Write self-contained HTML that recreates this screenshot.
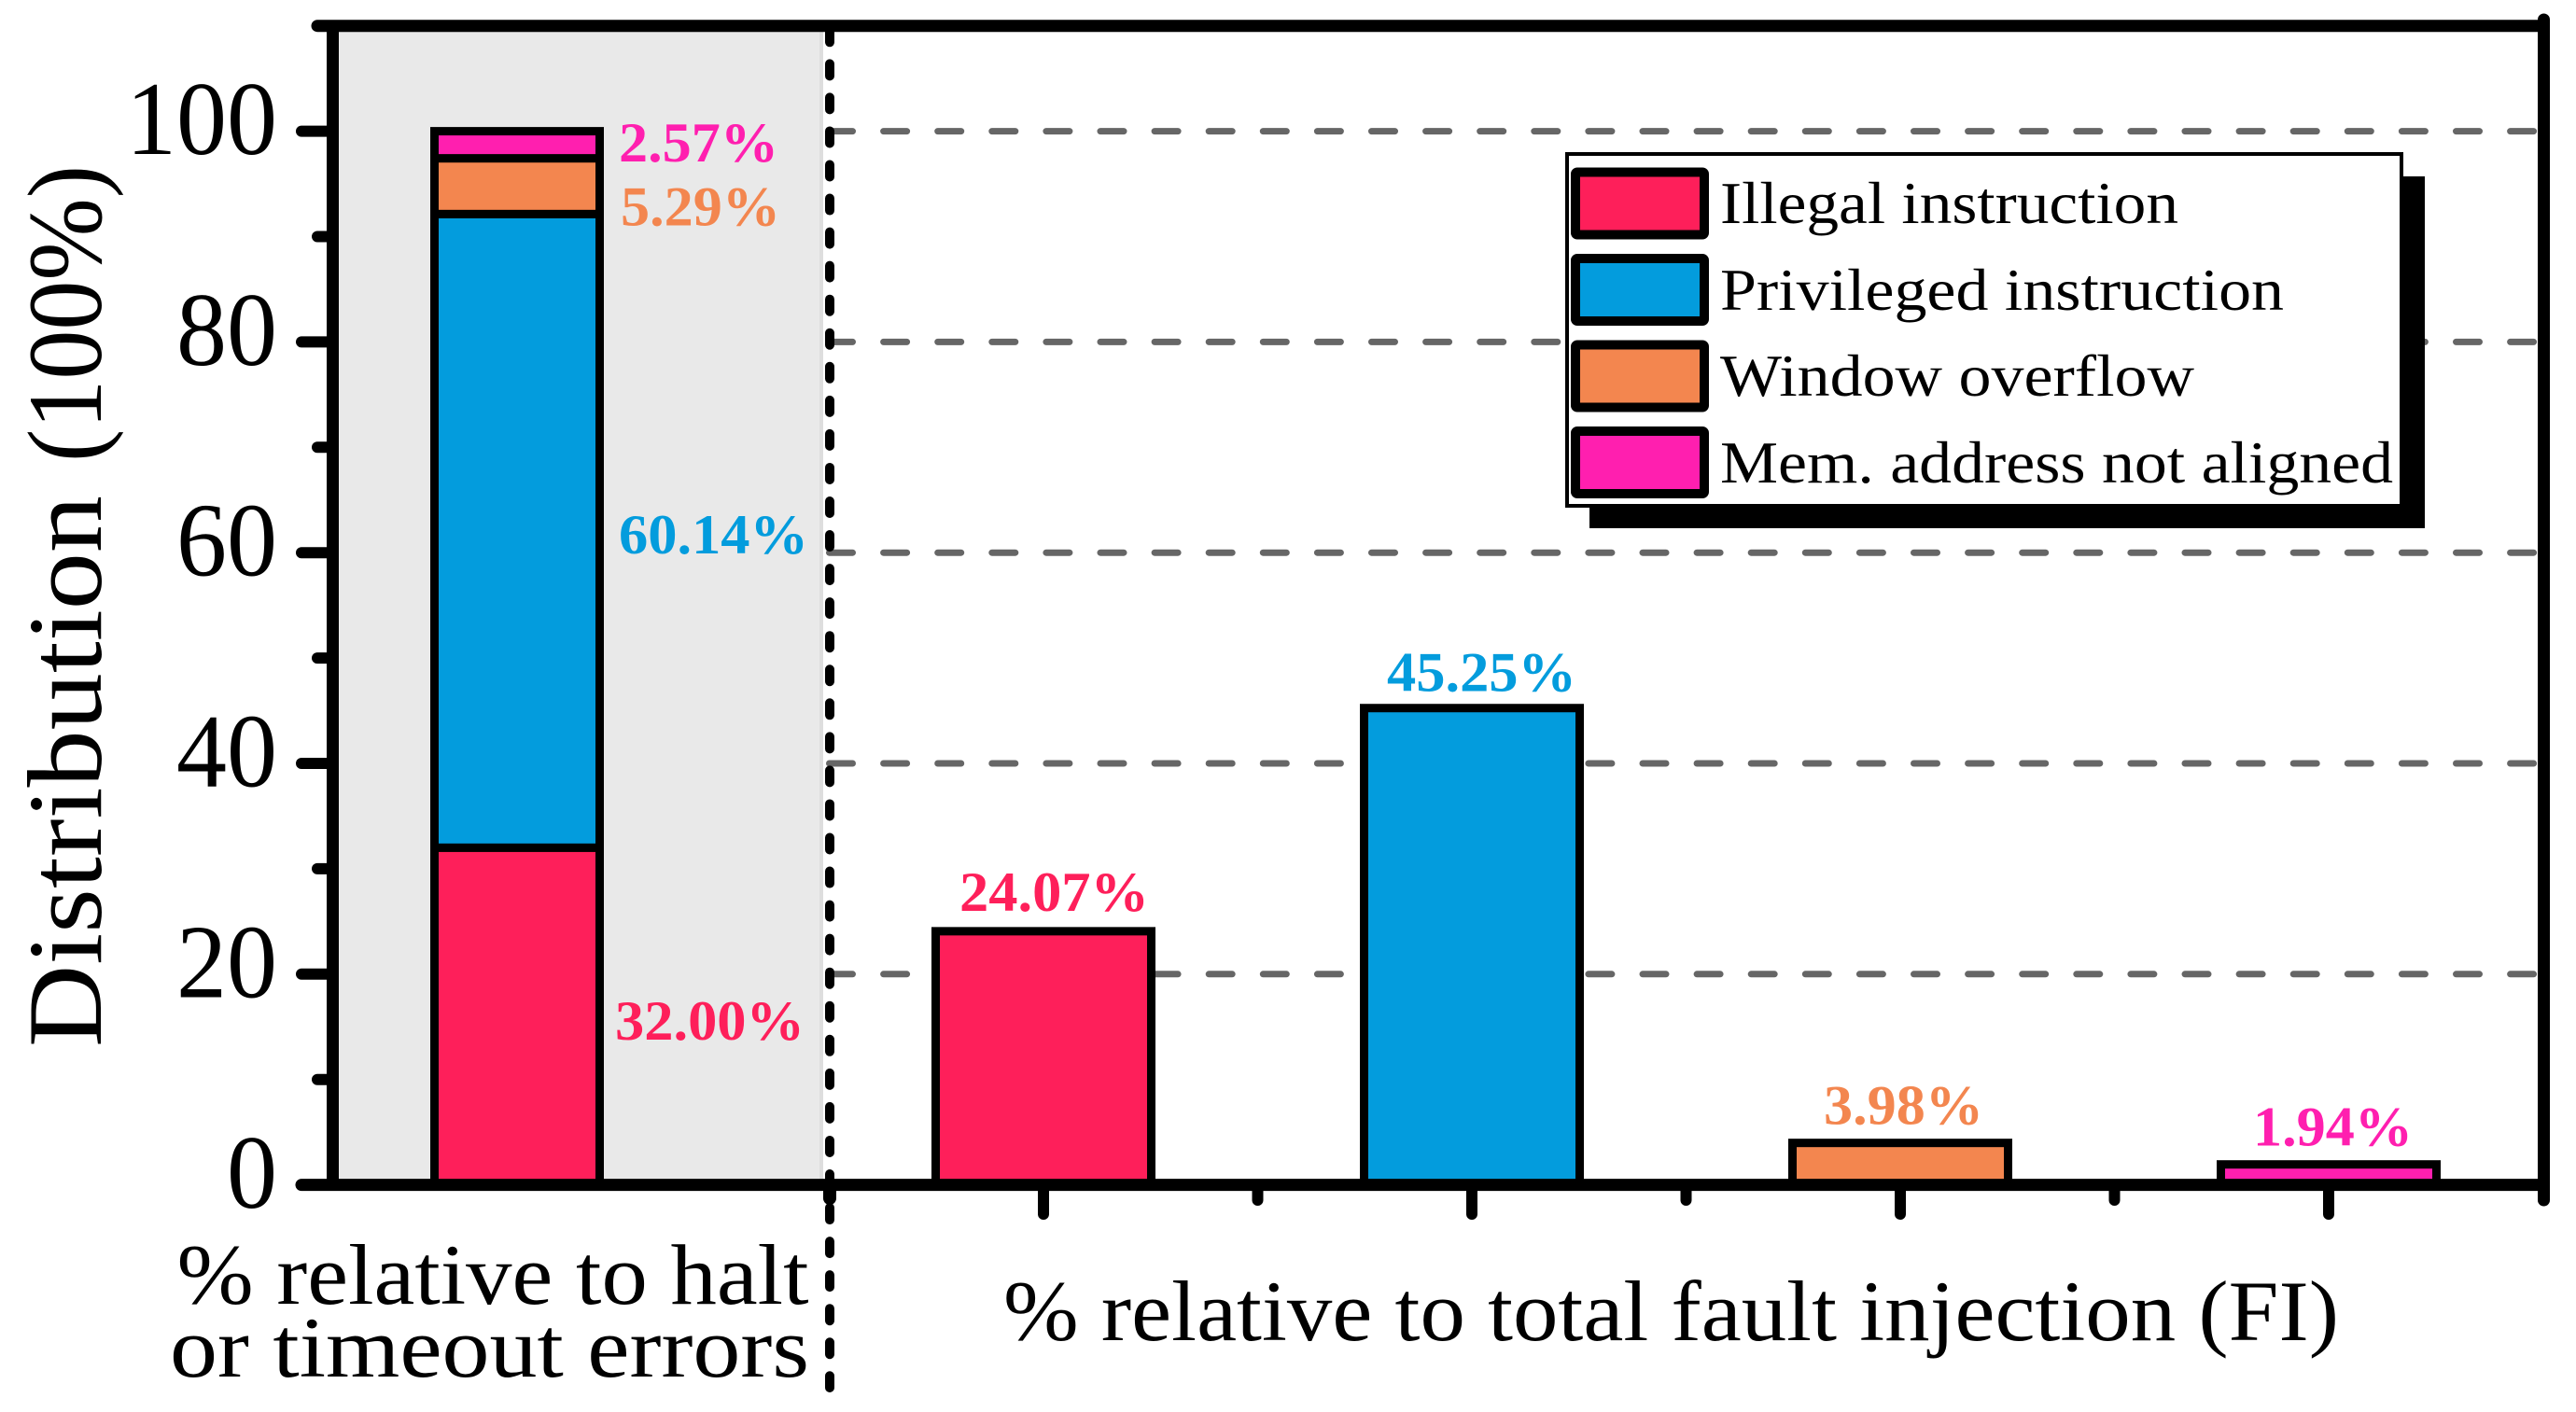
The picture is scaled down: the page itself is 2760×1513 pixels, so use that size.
<!DOCTYPE html>
<html lang="en">
<head>
<meta charset="utf-8">
<title>Fault injection distribution chart</title>
<style>
html,body{margin:0;padding:0;background:#fff;width:2760px;height:1513px;overflow:hidden}
svg{display:block}
text{font-family:"Liberation Serif","DejaVu Serif",serif;fill:#000}
</style>
</head>
<body>
<svg id="chart" xmlns="http://www.w3.org/2000/svg" width="2760" height="1513" viewBox="0 0 2760 1513">
  <rect x="0" y="0" width="2760" height="1513" fill="#fff"/>
  <rect x="357" y="27" width="521" height="1240" fill="#e9e9e9"/>
  <rect x="878" y="27" width="4" height="1240" fill="#dedede"/>
  <g id="grid"></g>
  <g id="bars"></g>
  <g id="axes"></g>
  <g id="labels"></g>
  <line x1="889" y1="32.3" x2="889" y2="1487" stroke="#000" stroke-width="10" stroke-linecap="round" stroke-dasharray="13 23.05"/>

  <text transform="translate(108 1122) rotate(-90)" font-size="113"><tspan x="0" textLength="591" lengthAdjust="spacingAndGlyphs">Distribution</tspan> <tspan x="627" textLength="318" lengthAdjust="spacingAndGlyphs">(100%)</tspan></text>
  <text x="189.5" y="1397" font-size="92" textLength="677" lengthAdjust="spacingAndGlyphs">% relative to halt</text>
  <text x="182" y="1475" font-size="92" textLength="685" lengthAdjust="spacingAndGlyphs">or timeout errors</text>
  <text x="1075" y="1436" font-size="92" textLength="1431" lengthAdjust="spacingAndGlyphs">% relative to total fault injection (FI)</text>

  <g>
    <rect x="1703" y="189" width="895" height="377" fill="#000"/>
    <rect x="1679" y="165" width="894" height="377" fill="#fff" stroke="#000" stroke-width="4"/>
    <rect x="1688" y="184.5" width="138" height="67" rx="2" fill="#FE1F5A" stroke="#000" stroke-width="10"/>
    <rect x="1688" y="277" width="138" height="67" rx="2" fill="#039CDD" stroke="#000" stroke-width="10"/>
    <rect x="1688" y="369.5" width="138" height="67" rx="2" fill="#F3864F" stroke="#000" stroke-width="10"/>
    <rect x="1688" y="462" width="138" height="67" rx="2" fill="#FF1FAF" stroke="#000" stroke-width="10"/>
    <text x="1843" y="239" font-size="64" textLength="491" lengthAdjust="spacingAndGlyphs">Illegal instruction</text>
    <text x="1843" y="332" font-size="64" textLength="604" lengthAdjust="spacingAndGlyphs">Privileged instruction</text>
    <text x="1843" y="424" font-size="64" textLength="508" lengthAdjust="spacingAndGlyphs">Window overflow</text>
    <text x="1843" y="517" font-size="64" textLength="721" lengthAdjust="spacingAndGlyphs">Mem. address not aligned</text>
  </g>
</svg>
<script>
const categories = ['illegal', 'privileged', 'window', 'memory'];
const haltShares = [32.00, 60.14, 5.29, 2.57];
const totalShares = [24.07, 45.25, 3.98, 1.94];
const yMajorTicks = [0, 20, 40, 60, 80, 100];
const yMinorTicks = [10, 30, 50, 70, 90];
const gridValues = [20, 40, 60, 80, 100];
const seriesColors = ['#FE1F5A', '#039CDD', '#F3864F', '#FF1FAF'];

const NS = 'http://www.w3.org/2000/svg';
function yScale(v) { return 1269.6 - 11.29 * v; }
function xBar(i) { return 1118 + 459 * i; }
function make(tag, parent, attrs) {
  const el = document.createElementNS(NS, tag);
  for (const k in attrs) el.setAttribute(k, attrs[k]);
  parent.appendChild(el);
  return el;
}

const gridG = document.getElementById('grid');
gridValues.forEach(function (v) {
  const el = make('line', gridG, { x1: 888.5, x2: 2716, y1: yScale(v), y2: yScale(v), stroke: '#666', 'stroke-width': 7, 'stroke-linecap': 'round', 'stroke-dasharray': '25 33.1' });
  
  
});

const barsG = document.getElementById('bars');
let base = 0;
haltShares.forEach(function (v, i) {
  const top = yScale(base + v);
  const bottom = yScale(base);
  const el = make('rect', barsG, { x: 465.5, width: 177, y: top, height: bottom - top, fill: seriesColors[i], stroke: '#000', 'stroke-width': 9 });
  
  
  base += v;
});
totalShares.forEach(function (v, i) {
  const top = yScale(v);
  const el = make('rect', barsG, { x: xBar(i) - 115.5, width: 231, y: top, height: yScale(0) - top, fill: seriesColors[i], stroke: '#000', 'stroke-width': 9 });
  
  
});

const axesG = document.getElementById('axes');
function axisLine(name, x1, y1, x2, y2, w, cap) {
  const el = make('line', axesG, { x1: x1, y1: y1, x2: x2, y2: y2, stroke: '#000', 'stroke-width': w, 'stroke-linecap': cap || 'round' });
  
  
  return el;
}
axisLine('y-axis-line', 356.5, 27, 356.5, 1270, 13, 'butt');
axisLine('right-axis-line', 2725.5, 21, 2725.5, 1286, 13, 'round');
axisLine('top-axis-line', 340, yScale(110), 2725.5, yScale(110), 13, 'round');
axisLine('x-axis-line', 323, yScale(0), 2725.5, yScale(0), 13, 'round');

yMajorTicks.forEach(function (v) {
  axisLine('y-major-tick-' + v, 323, yScale(v), 352, yScale(v), 12);
  const label = make('text', axesG, { x: 297, y: yScale(v) + 24.5, 'font-size': 112, 'text-anchor': 'end', textLength: String(v).length * 54, lengthAdjust: 'spacingAndGlyphs' });
  
  
  label.textContent = String(v);
});
yMinorTicks.forEach(function (v) {
  axisLine('y-minor-tick-' + v, 340, yScale(v), 352, yScale(v), 12);
});
categories.forEach(function (c, i) {
  axisLine('x-major-tick-' + c, xBar(i), 1272, xBar(i), 1301, 12);
  if (i < categories.length - 1) {
    axisLine('x-minor-tick-' + i, xBar(i) + 229.5, 1272, xBar(i) + 229.5, 1286, 12);
  }
});
axisLine('x-minor-tick-left', 889, 1272, 889, 1284, 14);

const labelsG = document.getElementById('labels');
function valueLabel(name, x, y, v, color) {
  const str = v.toFixed(2) + '%';
  const el = make('text', labelsG, { x: x, y: y, 'font-size': 60, 'font-weight': 'bold', textLength: str.length === 6 ? 203 : 171, lengthAdjust: 'spacingAndGlyphs' });
  el.style.fill = color;
  
  
  el.textContent = str;
}
(function drawLabels() {
  const stackDy = [25, 24, 42, 18];
  const stackX = [659, 663, 665, 663];
  const totalDx = [-90, -91, -82, -81];
  const totalDy = [-22, -18, -20, -20];
  let b = 0;
  haltShares.forEach(function (v, i) {
    valueLabel('stack-label-' + categories[i], stackX[i], yScale(b + v / 2) + stackDy[i], v, seriesColors[i]);
    b += v;
  });
  totalShares.forEach(function (v, i) {
    valueLabel('bar-label-' + categories[i], xBar(i) + totalDx[i], yScale(v) + totalDy[i], v, seriesColors[i]);
  });
})();
</script>
</body>
</html>
